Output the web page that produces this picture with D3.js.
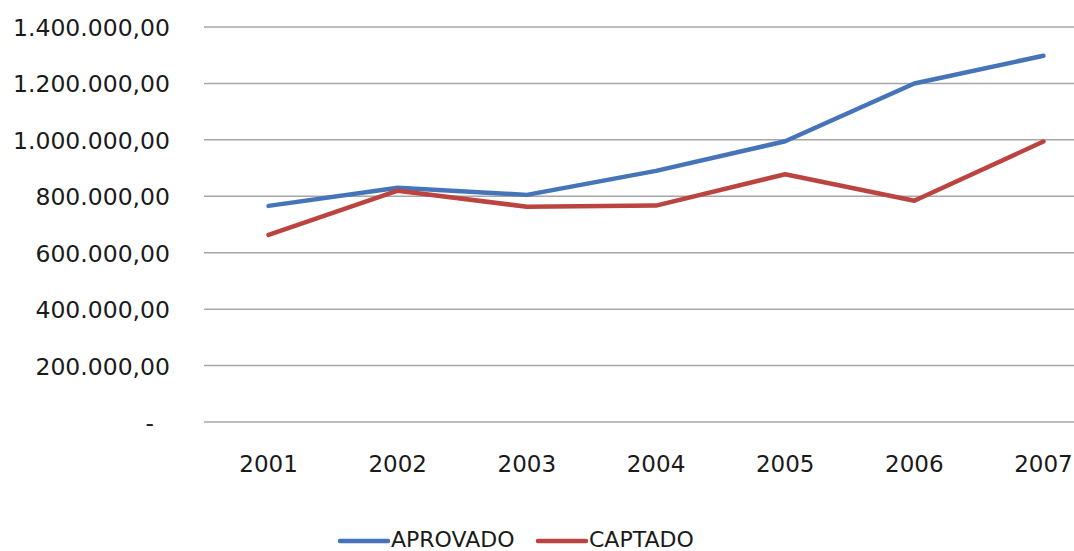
<!DOCTYPE html>
<html>
<head>
<meta charset="utf-8">
<style>
  body { margin: 0; background: #fff; }
  text { font-family: "DejaVu Sans", Verdana, sans-serif; fill: #1a1a1a; }
</style>
</head>
<body>
<svg width="1074" height="551"></svg>
<script src="https://d3js.org/d3.v7.min.js"></script>
<script>
  var years = ["2001", "2002", "2003", "2004", "2005", "2006", "2007"];
  var aprovado = [766000, 830000, 805000, 890000, 995000, 1200000, 1298000];
  var captado = [663000, 820000, 763000, 767000, 878000, 784000, 994000];
  var yTicks = [0, 200000, 400000, 600000, 800000, 1000000, 1200000, 1400000];
  var seriesNames = ["APROVADO", "CAPTADO"];
  var colors = ["#4674b8", "#bb4441"];

  var svg = d3.select("svg");
  var plotLeft = 204, plotRight = 1108, plotTop = 27, plotBottom = 422;

  var x = d3.scaleBand().domain(years).range([plotLeft, plotRight]);
  var y = d3.scaleLinear().domain([0, 1400000]).range([plotBottom, plotTop]);

  function fmt(v) {
    if (v === 0) return "-";
    var s = d3.format(",.2f")(v);
    return s.replace(/,/g, "#").replace(".", ",").replace(/#/g, ".");
  }

  // gridlines
  svg.append("g").selectAll("line")
    .data(yTicks)
    .enter().append("line")
    .attr("x1", plotLeft).attr("x2", plotRight)
    .attr("y1", function (d) { return y(d); })
    .attr("y2", function (d) { return y(d); })
    .attr("stroke", "#a6a6a6")
    .attr("stroke-width", 1.5);

  // y axis labels
  var yAxis = d3.axisLeft(y).tickValues(yTicks).tickFormat(fmt).tickSize(0).tickPadding(0);
  var gy = svg.append("g").attr("transform", "translate(170,0)").call(yAxis);
  gy.select(".domain").remove();
  gy.selectAll("text")
    .attr("font-size", 23.5)
    .attr("font-family", "DejaVu Sans, sans-serif")
    .attr("fill", "#1a1a1a")
    .attr("dy", "0.36em")
    .attr("dx", function (d) { return d === 0 ? -16 : 0; });

  // x axis labels
  var xAxis = d3.axisBottom(x).tickSize(0).tickPadding(0);
  var gx = svg.append("g").attr("transform", "translate(0,472)").call(xAxis);
  gx.select(".domain").remove();
  gx.selectAll("text")
    .attr("font-size", 23)
    .attr("font-family", "DejaVu Sans, sans-serif")
    .attr("fill", "#1a1a1a")
    .attr("dy", 0);

  var line = d3.line()
    .x(function (d, i) { return x(years[i]) + x.bandwidth() / 2; })
    .y(function (d) { return y(d); });

  [aprovado, captado].forEach(function (s, i) {
    svg.append("path")
      .datum(s)
      .attr("fill", "none")
      .attr("stroke", colors[i])
      .attr("stroke-width", 4.5)
      .attr("stroke-linejoin", "round")
      .attr("stroke-linecap", "round")
      .attr("d", line);
  });

  // legend
  var legendX = [340, 538];
  seriesNames.forEach(function (name, i) {
    var g = svg.append("g").attr("transform", "translate(" + legendX[i] + ",541)");
    g.append("line")
      .attr("x1", 0).attr("x2", 48)
      .attr("stroke", colors[i])
      .attr("stroke-width", 4.5)
      .attr("stroke-linecap", "round");
    g.append("text")
      .attr("x", 51).attr("y", 6)
      .attr("font-size", 22)
      .text(name);
  });
</script>
</body>
</html>
